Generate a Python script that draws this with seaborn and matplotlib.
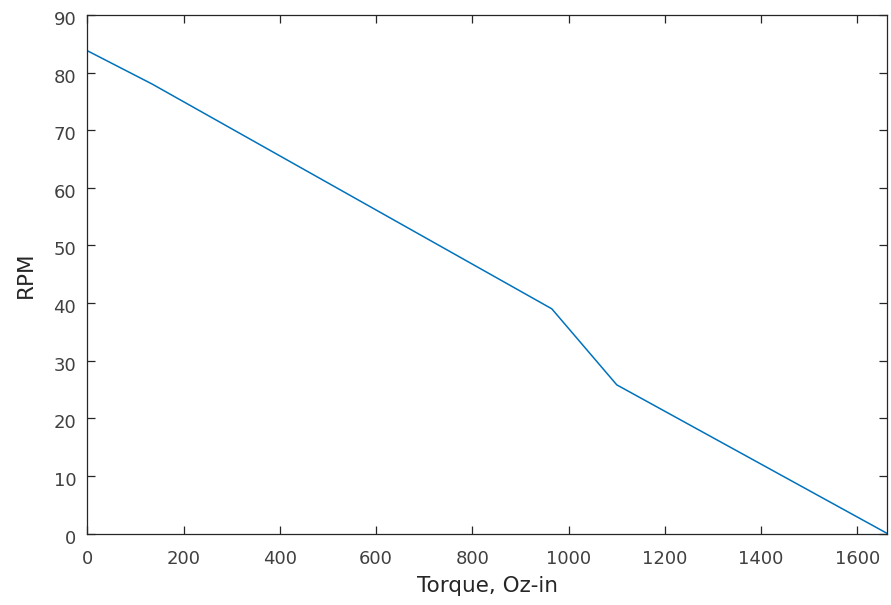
import matplotlib
matplotlib.use("Agg")
import matplotlib.pyplot as plt
import matplotlib.transforms as mtransforms
import seaborn as sns
import pandas as pd

# Motor speed-torque curve
torque = [0, 135, 965, 1100, 1662]
rpm = [83.8, 78.0, 39.0, 25.8, 0.0]

x_ticks = [0, 200, 400, 600, 800, 1000, 1200, 1400, 1600]
y_ticks = [0, 10, 20, 30, 40, 50, 60, 70, 80, 90]

sns.set_style("ticks")
plt.rcParams["font.family"] = ["DejaVu Sans"]

df = pd.DataFrame({"Torque": torque, "RPM": rpm})

fig = plt.figure(figsize=(8.91, 6.05), dpi=100)
ax = fig.add_axes([87.3 / 891, 1 - 533.5 / 605, 800 / 891, (533.5 - 15) / 605])

sns.lineplot(data=df, x="Torque", y="RPM", ax=ax, color="#0072BD",
             linewidth=1.1, sort=False)

ax.set_xlim(0, max(torque))
ax.set_ylim(0, 90)
ax.set_xticks(x_ticks)
ax.set_yticks(y_ticks)

edge = "#262626"
for side in ["top", "right", "bottom", "left"]:
    ax.spines[side].set_visible(True)
    ax.spines[side].set_color(edge)
    ax.spines[side].set_linewidth(0.9)

ax.tick_params(direction="in", length=6, width=0.9, colors=edge,
               labelsize=13, top=True, right=True)
ax.tick_params(axis="x", pad=12, labelcolor="#404040")
ax.tick_params(axis="y", pad=8, labelcolor="#404040")

# nudge y tick labels slightly downward
shift = mtransforms.ScaledTranslation(0, -3 / 100, fig.dpi_scale_trans)
for lbl in ax.get_yticklabels():
    lbl.set_transform(lbl.get_transform() + shift)

ax.set_xlabel("Torque, Oz-in", fontsize=15.5, color="#262626", labelpad=6)
ax.set_ylabel("RPM", fontsize=15.5, color="#262626", labelpad=13)

fig.savefig("out.png", dpi=100)
